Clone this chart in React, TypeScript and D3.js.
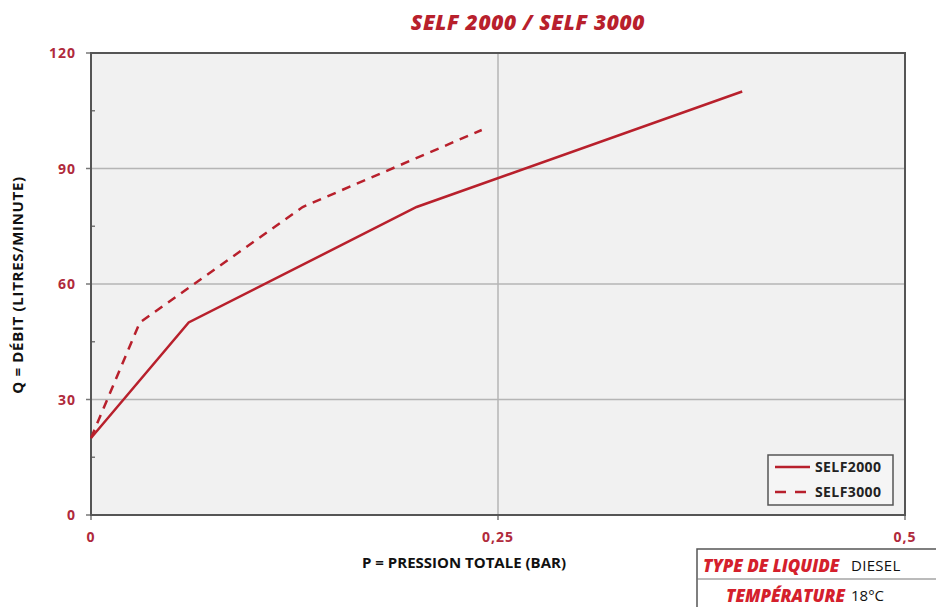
import React from "react";
import * as d3 from "d3";

const self2000X = [0, 0.06, 0.2, 0.4];
const self2000Y = [20, 50, 80, 110];
const self3000X = [0, 0.03, 0.13, 0.24];
const self3000Y = [20, 50, 80, 100];
const yTicks = [0, 30, 60, 90, 120];
const yMinorTicks = [15, 45, 75, 105];
const xTicks = [0, 0.25, 0.5];
const xTickLabels = ["0", "0,25", "0,5"];
const seriesNames = ["SELF2000", "SELF3000"];

const W = 936, H = 607;
const L = 91, R = 905, T = 53, B = 515;
const RED = "#b8202c";
const LABEL_RED = "#b02a3c";
const FONT = "'Open Sans', 'DejaVu Sans', sans-serif";

export default function App() {
  const x = d3.scaleLinear().domain([0, 0.5]).range([L, R]);
  const y = d3.scaleLinear().domain([0, 120]).range([B, T]);
  const line = d3.line<[number, number]>().x(d => x(d[0])).y(d => y(d[1]));
  const s1 = self2000X.map((v, i) => [v, self2000Y[i]] as [number, number]);
  const s2 = self3000X.map((v, i) => [v, self3000Y[i]] as [number, number]);
  return (
    <svg width={W} height={H} style={{ position: "absolute", left: 0, top: 0, background: "#fff" }} fontFamily={FONT}>
      <text x={528} y={30} textAnchor="middle" fontSize={21} fontWeight={800} fontStyle="italic" fill={RED} letterSpacing={0.6}>SELF 2000 / SELF 3000</text>
      <rect x={L} y={T} width={R - L} height={B - T} fill="#f1f1f1" />
      {yTicks.slice(1, -1).map(t => (
        <line key={"gy" + t} x1={L} x2={R} y1={y(t)} y2={y(t)} stroke="#b5b5b5" strokeWidth={1.5} />
      ))}
      {xTicks.slice(1, -1).map(t => (
        <line key={"gx" + t} x1={x(t)} x2={x(t)} y1={T} y2={B} stroke="#b5b5b5" strokeWidth={1.5} />
      ))}
      {yMinorTicks.map(t => (
        <line key={"my" + t} x1={L} x2={L + 4} y1={y(t)} y2={y(t)} stroke="#777" strokeWidth={1.5} />
      ))}
      {yTicks.map(t => (
        <line key={"ty" + t} x1={L - 5} x2={L} y1={y(t)} y2={y(t)} stroke="#777" strokeWidth={1.5} />
      ))}
      {xTicks.map(t => (
        <line key={"tx" + t} x1={x(t)} x2={x(t)} y1={B} y2={B + 5} stroke="#777" strokeWidth={1.5} />
      ))}
      <rect x={L} y={T} width={R - L} height={B - T} fill="none" stroke="#555" strokeWidth={2} />
      <path d={line(s1) ?? ""} fill="none" stroke={RED} strokeWidth={2.5} />
      <path d={line(s2) ?? ""} fill="none" stroke={RED} strokeWidth={2.5} strokeDasharray="9,7" />
      {yTicks.map(t => (
        <text key={"ly" + t} x={76} y={y(t) + 5} textAnchor="end" fontSize={14} fontWeight={700} fill={LABEL_RED} letterSpacing={1}>{t}</text>
      ))}
      {xTicks.map((t, i) => (
        <text key={"lx" + t} x={x(t)} y={542} textAnchor="middle" fontSize={14} fontWeight={700} fill={LABEL_RED} letterSpacing={1}>{xTickLabels[i]}</text>
      ))}
      <text x={464} y={568} textAnchor="middle" fontSize={15} fontWeight={700} fill="#111">P = PRESSION TOTALE (BAR)</text>
      <text transform="translate(23,285) rotate(-90)" textAnchor="middle" fontSize={15} fontWeight={700} fill="#111" letterSpacing={0.7}>Q = DÉBIT (LITRES/MINUTE)</text>
      <rect x={768} y={455} width={125} height={50} fill="#f5f5f5" stroke="#555" strokeWidth={1.5} />
      <line x1={775} x2={810} y1={467} y2={467} stroke={RED} strokeWidth={2.5} />
      <line x1={775} x2={810} y1={492} y2={492} stroke={RED} strokeWidth={2.5} strokeDasharray="11,9" />
      <text x={815} y={472} fontSize={14} fontWeight={700} fill="#222" letterSpacing={0.4}>{seriesNames[0]}</text>
      <text x={815} y={497} fontSize={14} fontWeight={700} fill="#222" letterSpacing={0.4}>{seriesNames[1]}</text>
      <rect x={697} y={549} width={250} height={62} fill="#fff" stroke="#555" strokeWidth={1.5} />
      <line x1={697} x2={936} y1={579} y2={579} stroke="#777" strokeWidth={1} />
      <text x={703} y={572} fontSize={17} fontWeight={800} fontStyle="italic" fill="#d4202c">TYPE DE LIQUIDE</text>
      <text x={851} y={571} fontSize={15} fill="#111" letterSpacing={0.3}>DIESEL</text>
      <text x={845} y={602} textAnchor="end" fontSize={17} fontWeight={800} fontStyle="italic" fill="#d4202c">TEMPÉRATURE</text>
      <text x={851} y={601} fontSize={15} fill="#111">18°C</text>
    </svg>
  );
}
